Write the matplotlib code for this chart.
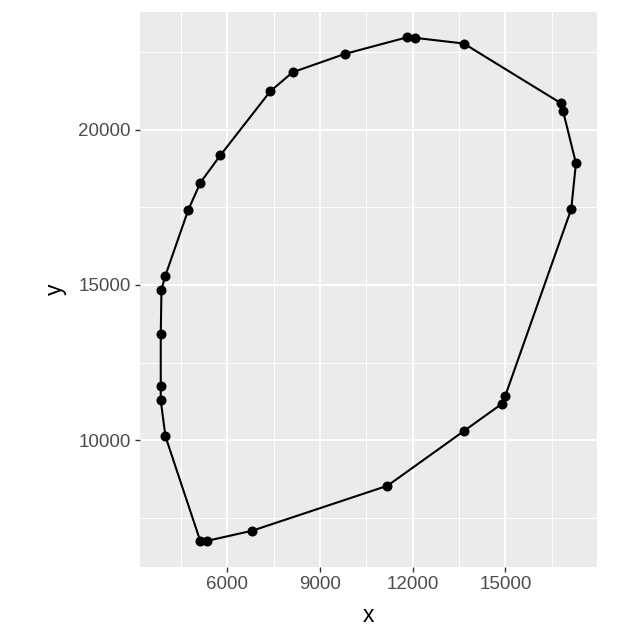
import matplotlib
matplotlib.use("Agg")
import matplotlib.pyplot as plt
from matplotlib.ticker import FixedLocator

plt.rcParams['font.family'] = ['Liberation Sans', 'DejaVu Sans']

x_vals = [5127, 5353, 6799, 11184, 13655, 14893, 15000, 17135, 17287, 16866,
          16802, 13655, 12090, 11831, 9806, 8113, 7391, 5774, 5127, 4729,
          3985, 3866, 3843, 3843, 3843, 3995]
y_vals = [6747, 6770, 7092, 8540, 10298, 11180, 11437, 17444, 18915, 20612,
          20847, 22768, 22949, 22971, 22434, 21844, 21233, 19173, 18294, 17402,
          15278, 14850, 13433, 11747, 11286, 10127]

x_major = [6000, 9000, 12000, 15000]
x_minor = [4500, 7500, 10500, 13500, 16500]
y_major = [10000, 15000, 20000]
y_minor = [7500, 12500, 17500, 22500]

fig = plt.figure(figsize=(6.4, 6.4), dpi=100)
ax = fig.add_axes([140/640, (640-566.7)/640, 456.7/640, 554.7/640])
ax.set_facecolor('#EBEBEB')

xmin, xmax = min(x_vals), max(x_vals)
ymin, ymax = min(y_vals), max(y_vals)
dx = (xmax - xmin) * 0.05
dy = (ymax - ymin) * 0.05
ax.set_xlim(xmin - dx, xmax + dx)
ax.set_ylim(ymin - dy, ymax + dy)

ax.xaxis.set_major_locator(FixedLocator(x_major))
ax.xaxis.set_minor_locator(FixedLocator(x_minor))
ax.yaxis.set_major_locator(FixedLocator(y_major))
ax.yaxis.set_minor_locator(FixedLocator(y_minor))
ax.set_xticklabels([str(v) for v in x_major])
ax.set_yticklabels([str(v) for v in y_major])

ax.grid(which='major', color='white', linewidth=1.4)
ax.grid(which='minor', color='white', linewidth=0.7)
ax.set_axisbelow(True)
for s in ax.spines.values():
    s.set_visible(False)

ax.tick_params(which='major', length=3.5, width=1.0, color='#333333',
               labelsize=13.5, labelcolor='#4D4D4D', pad=3)
ax.tick_params(which='minor', length=0)

xc = x_vals + [x_vals[0]]
yc = y_vals + [y_vals[0]]
ax.plot(xc, yc, color='black', linewidth=1.5, zorder=3)
ax.scatter(x_vals, y_vals, s=52, color='black', zorder=4, linewidths=0)

ax.set_xlabel('x', fontsize=16.5, color='black', labelpad=8)
ax.set_ylabel('y', fontsize=16.5, color='black', labelpad=8)

fig.savefig('out.png', dpi=100)
